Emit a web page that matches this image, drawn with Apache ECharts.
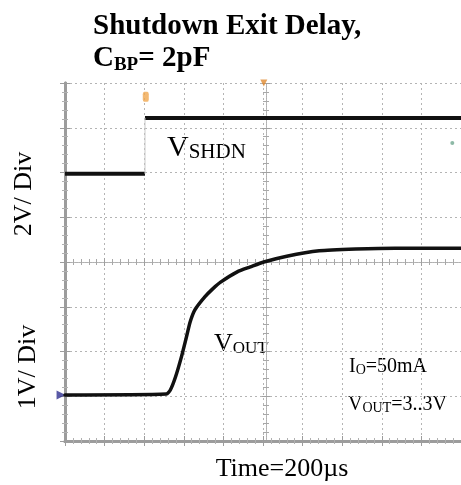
<!DOCTYPE html>
<html>
<head>
<meta charset="utf-8">
<script src="https://cdn.jsdelivr.net/npm/echarts@6/dist/echarts.min.js"></script>
<style>
html,body{margin:0;padding:0;background:#fff;}
#chart{width:461px;height:485px;}
</style>
</head>
<body>
<div id="chart"></div>
<script>
// ---- data (x in horizontal divisions, y in vertical divisions of the scope screen) ----
const voutX = [0, 2.56, 2.66, 2.79, 2.94, 3.06, 3.16, 3.28, 3.53, 3.73, 3.93, 4.35, 4.68, 5.02, 5.6, 6.42, 7.34, 8.33, 10];
const voutY = [1.03, 1.05, 1.14, 1.43, 1.88, 2.30, 2.66, 2.93, 3.22, 3.40, 3.55, 3.78, 3.89, 4.0, 4.13, 4.25, 4.29, 4.31, 4.31];
const shdnLowX = [0, 2.02];
const shdnLowLevel = 5.97;
const shdnHighX = [2.02, 10];
const shdnHighLevel = 7.22;
const triggerMark = [2.04, 7.69];
const centerMark = [5.02, 8.0];
const groundMark = [-0.1, 1.03];
const ch2Mark = [9.78, 6.66];

const chart = echarts.init(document.getElementById('chart'));
const serif = '"Liberation Serif", "DejaVu Serif", serif';

function borderAxis(pos, extra) {
  return Object.assign({
    type: 'value', position: pos, min: 0,
    axisLine: {show: true, lineStyle: {color: '#9c9c9c', width: 3}},
    axisTick: {show: true, inside: true, length: 5, lineStyle: {color: '#9c9c9c', width: 1}},
    minorTick: {show: true, splitNumber: 5, length: 3, lineStyle: {color: '#b0b0b0', width: 1}},
    axisLabel: {show: false},
    splitLine: {show: false}
  }, extra);
}
function centerAxis(pos, offset, extra) {
  return Object.assign({
    type: 'value', position: pos, offset: offset, min: 0,
    axisLine: {show: true, lineStyle: {color: '#b0b0b0', width: 1, type: 'dotted'}},
    axisTick: {show: true, inside: true, length: 4, lineStyle: {color: '#a0a0a0', width: 1}},
    minorTick: {show: true, splitNumber: 5, length: 3, lineStyle: {color: '#a8a8a8', width: 1}},
    axisLabel: {show: false},
    splitLine: {show: false}
  }, extra);
}

const gridLine = {show: true, lineStyle: {color: '#b4b4b4', width: 1, type: [2, 3]}};
const xAxes = [
  Object.assign(borderAxis('bottom', {max: 10, interval: 1}), {splitLine: gridLine}),
  borderAxis('top', {max: 10, interval: 1}),
  centerAxis('bottom', -179, {max: 10, interval: 1}),
  centerAxis('top', -179, {max: 10, interval: 1})
];
const yAxes = [
  Object.assign(borderAxis('left', {max: 8, interval: 1}), {splitLine: gridLine}),
  borderAxis('right', {max: 8, interval: 1}),
  centerAxis('left', -201, {max: 8, interval: 1}),
  centerAxis('right', -201, {max: 8, interval: 1})
];

function pairs(xs, ys) { return xs.map((x, i) => [x, ys[i]]); }

const option = {
  animation: false,
  backgroundColor: '#fff',
  title: {
    left: 93, top: 11, padding: 0,
    text: '{b|Shutdown Exit Delay,}\n{b|C}{s|BP}{b|= 2pF}',
    textStyle: {
      rich: {
        b: {fontFamily: serif, fontWeight: 'bold', fontSize: 29, color: '#000', lineHeight: 32},
        s: {fontFamily: serif, fontWeight: 'bold', fontSize: 19, color: '#000', lineHeight: 32, verticalAlign: 'bottom'}
      }
    }
  },
  grid: {left: 65, top: 83, width: 402, height: 358, containLabel: false},
  xAxis: xAxes,
  yAxis: yAxes,
  graphic: [
    {type: 'text', x: 24, y: 194, rotation: Math.PI / 2,
     style: {text: '2V/ Div', font: '26px ' + serif, fill: '#000', align: 'center', verticalAlign: 'middle'}},
    {type: 'text', x: 28, y: 367, rotation: Math.PI / 2,
     style: {text: '1V/ Div', font: '26px ' + serif, fill: '#000', align: 'center', verticalAlign: 'middle'}},
    {type: 'text', x: 282, y: 469,
     style: {text: 'Time=200µs', font: '26px ' + serif, fill: '#000', align: 'center', verticalAlign: 'middle'}},
    {type: 'text', x: 167, y: 148,
     style: {text: '{m|V}{s|SHDN}', fill: '#000', verticalAlign: 'middle',
       rich: {m: {fontFamily: serif, fontSize: 30, fill: '#000'},
              s: {fontFamily: serif, fontSize: 21, fill: '#000', verticalAlign: 'bottom'}}}},
    {type: 'text', x: 214, y: 344,
     style: {text: '{m|V}{s|OUT}', fill: '#000', verticalAlign: 'middle',
       rich: {m: {fontFamily: serif, fontSize: 26, fill: '#000'},
              s: {fontFamily: serif, fontSize: 17, fill: '#000', verticalAlign: 'bottom'}}}},
    {type: 'text', x: 349, y: 367,
     style: {text: '{m|I}{s|O}{m|=50mA}', fill: '#000', verticalAlign: 'middle',
       rich: {m: {fontFamily: serif, fontSize: 20, fill: '#000'},
              s: {fontFamily: serif, fontSize: 14, fill: '#000', verticalAlign: 'bottom'}}}},
    {type: 'text', x: 348, y: 405,
     style: {text: '{m|V}{s|OUT}{m|=3..3V}', fill: '#000', verticalAlign: 'middle',
       rich: {m: {fontFamily: serif, fontSize: 20, fill: '#000'},
              s: {fontFamily: serif, fontSize: 14, fill: '#000', verticalAlign: 'bottom'}}}}
  ],
  series: [
    {type: 'line', data: pairs(shdnLowX, shdnLowX.map(() => shdnLowLevel)), symbol: 'none',
     lineStyle: {color: '#111', width: 4}},
    {type: 'line', data: pairs(shdnHighX, shdnHighX.map(() => shdnHighLevel)), symbol: 'none',
     lineStyle: {color: '#111', width: 4}},
    {type: 'line', data: [[shdnLowX[1], shdnLowLevel], [shdnHighX[0], shdnHighLevel]], symbol: 'none',
     lineStyle: {color: '#c8c8c8', width: 1}},
    {type: 'line', data: pairs(voutX, voutY), symbol: 'none', smooth: 0.2,
     lineStyle: {color: '#111', width: 3.5, join: 'round', cap: 'round'}},
    {type: 'scatter', data: [triggerMark], symbol: 'roundRect', symbolSize: [6, 10],
     itemStyle: {color: '#f0a850'}, clip: false},
    {type: 'scatter', data: [centerMark], symbol: 'triangle', symbolRotate: 180, symbolSize: 7,
     itemStyle: {color: '#e08a30'}, clip: false},
    {type: 'scatter', data: [groundMark], symbol: 'triangle', symbolRotate: -90, symbolSize: 9,
     itemStyle: {color: '#303090'}, clip: false},
    {type: 'scatter', data: [ch2Mark], symbol: 'circle', symbolSize: 4,
     itemStyle: {color: '#70a890'}, clip: false}
  ]
};
chart.setOption(option);
</script>
</body>
</html>
